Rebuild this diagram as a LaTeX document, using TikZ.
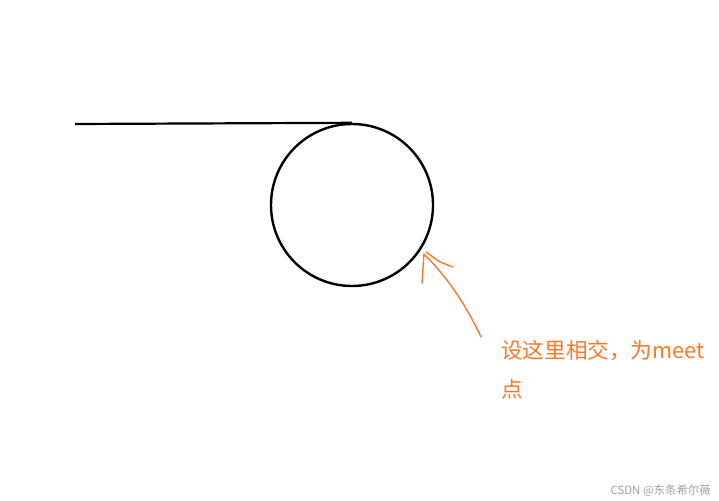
\documentclass[tikz,border=0pt]{standalone}
\usepackage{fontspec}
\newfontfamily\cjk{Noto Sans CJK SC}
\usetikzlibrary{positioning}
\definecolor{penorange}{RGB}{250,120,40}
\definecolor{markgrey}{RGB}{160,160,160}

\begin{document}
\begin{tikzpicture}
[x=1pt,y=-1pt
,ring/.style={circle,draw,line width=2.4pt,minimum size=162pt,inner sep=0pt}
,rope/.style={line width=2.2pt}
,pen/.style={draw=penorange,line width=1.4pt,line cap=round,line join=round}
,note/.style={text=penorange,font=\cjk\fontsize{21.6}{39}\selectfont,align=left,anchor=north west,inner sep=0pt}
,wmark/.style={text=markgrey,font=\cjk\fontsize{11.4}{13}\selectfont,anchor=south east,inner sep=0pt}]
\useasboundingbox (0,0) rectangle (719,500);
\node[ring] (c) at (352,205) {};
\coordinate (s) at (75,124);
\coordinate (tip) at (424,254);
\coordinate (tail) at (481,337);

\draw[rope] (s) -- (c.north);

\draw[pen] (tail) .. controls (466,305) and (448,278) .. (tip);
\draw[pen] (tip) -- (422,283);
\draw[pen] (426,252) -- (440,262) -- (453,267);

\node[note] (t) at (501,340) {设这里相交，为meet\\点};
\node[wmark] (w) at (711,497) {CSDN @东条希尔薇};
\end{tikzpicture}
\end{document}
